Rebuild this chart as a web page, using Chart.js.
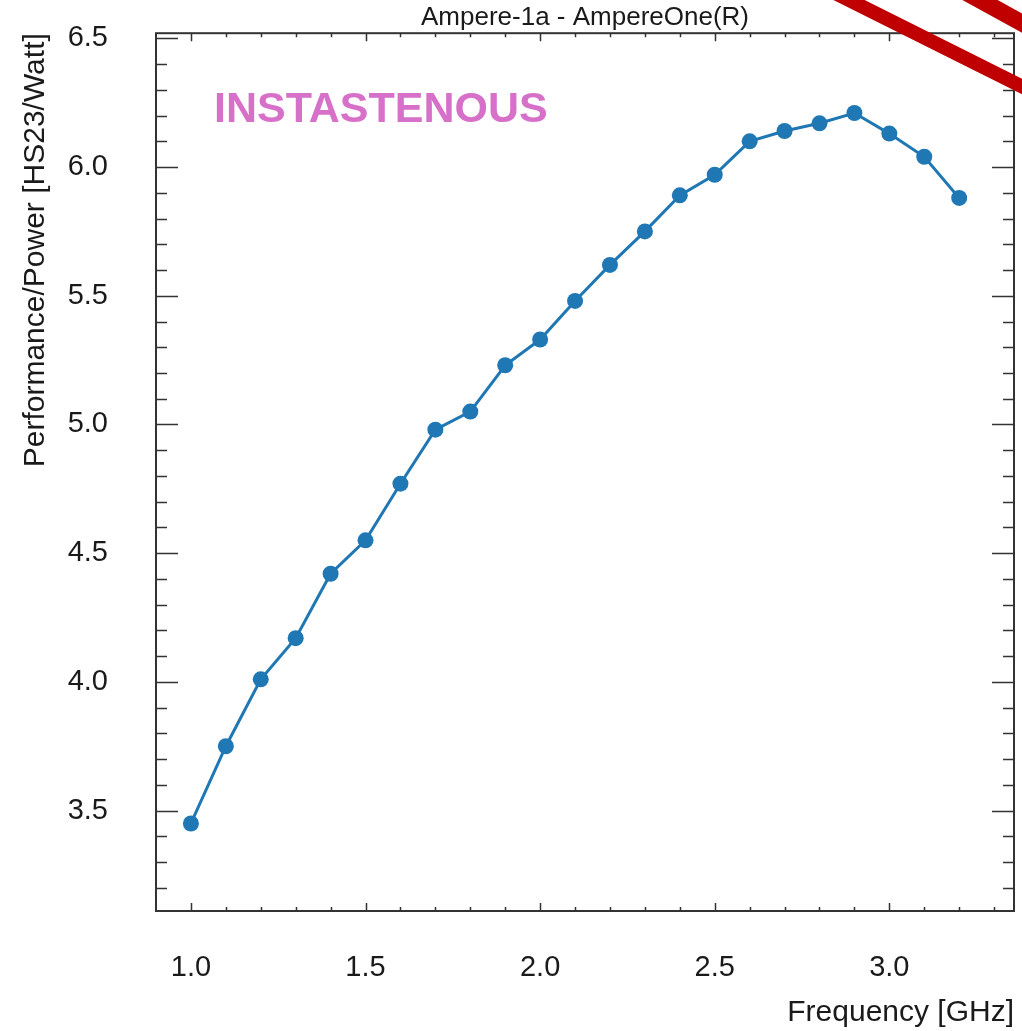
<!DOCTYPE html>
<html>
<head>
<meta charset="utf-8">
<title>Ampere-1a - AmpereOne(R)</title>
<script src="https://cdn.jsdelivr.net/npm/chart.js@4.4.0/dist/chart.umd.min.js"></script>
<style>
  html, body { margin: 0; padding: 0; background: #fff; }
</style>
</head>
<body>
<canvas id="effChart" width="1022" height="1031"></canvas>
<script>
// frequency sweep, efficiency per step
const freqGHz = [1.0, 1.1, 1.2, 1.3, 1.4, 1.5, 1.6, 1.7, 1.8, 1.9, 2.0, 2.1,
                 2.2, 2.3, 2.4, 2.5, 2.6, 2.7, 2.8, 2.9, 3.0, 3.1, 3.2];
const perfPerWatt = [3.45, 3.75, 4.01, 4.17, 4.42, 4.55, 4.77, 4.98, 5.05, 5.23, 5.33, 5.48,
                     5.62, 5.75, 5.89, 5.97, 6.10, 6.14, 6.17, 6.21, 6.13, 6.04, 5.88];
const xTickValues = [1.0, 1.5, 2.0, 2.5, 3.0];
const yTickValues = [3.5, 4.0, 4.5, 5.0, 5.5, 6.0, 6.5];

const FONT = '"Liberation Sans", Arial, Helvetica, sans-serif';
const AXIS_COL = '#333';
const TEXT_COL = '#1a1a1a';

// ticks drawn on the inside of the frame, all four sides
const frameTicks = {
  id: 'frameTicks',
  afterDraw(chart) {
    const { ctx, chartArea: a, scales: { x, y } } = chart;
    ctx.save();
    ctx.strokeStyle = AXIS_COL;
    ctx.lineWidth = 1.5;
    ctx.beginPath();
    for (let i = 10; i <= 33; i++) {
      const px = Math.round(x.getPixelForValue(i / 10)) + 0.5;
      const len = i % 5 === 0 ? 8 : 4;
      ctx.moveTo(px, a.bottom); ctx.lineTo(px, a.bottom - len);
      ctx.moveTo(px, a.top); ctx.lineTo(px, a.top + len);
    }
    for (let i = 32; i <= 65; i++) {
      const py = Math.round(y.getPixelForValue(i / 10)) + 0.5;
      const len = i % 5 === 0 ? 22 : 11;
      ctx.moveTo(a.left, py); ctx.lineTo(a.left + len, py);
      ctx.moveTo(a.right, py); ctx.lineTo(a.right - len, py);
    }
    ctx.stroke();
    ctx.lineWidth = 2;
    ctx.strokeRect(a.left, a.top, a.right - a.left, a.bottom - a.top);
    ctx.restore();
  }
};

// label text and the red corner stamp
const overlay = {
  id: 'overlay',
  afterDraw(chart) {
    const { ctx } = chart;
    ctx.save();
    ctx.fillStyle = 'rgb(214, 112, 200)';
    ctx.font = 'bold 43px ' + FONT;
    ctx.textBaseline = 'alphabetic';
    ctx.fillText('INSTASTENOUS', 214, 122);

    ctx.strokeStyle = '#c00000';
    ctx.lineCap = 'butt';
    ctx.lineWidth = 14;
    ctx.beginPath();
    ctx.moveTo(849 - 120, -120 * 0.5);
    ctx.lineTo(849 + 260, 260 * 0.5);
    ctx.stroke();
    ctx.lineWidth = 17;
    ctx.beginPath();
    ctx.moveTo(980 - 80, -80 * 0.55);
    ctx.lineTo(980 + 120, 120 * 0.55);
    ctx.stroke();
    ctx.restore();
  }
};

new Chart(document.getElementById('effChart').getContext('2d'), {
  type: 'line',
  data: {
    datasets: [{
      label: 'Ampere-1a',
      data: freqGHz.map((f, i) => ({ x: f, y: perfPerWatt[i] })),
      borderColor: '#1f77b4',
      backgroundColor: '#1f77b4',
      borderWidth: 3,
      pointRadius: 8,
      pointBorderWidth: 0,
      tension: 0
    }]
  },
  options: {
    responsive: false,
    animation: false,
    layout: { padding: { left: 0, right: 6, top: 0, bottom: 0 } },
    plugins: {
      legend: { display: false },
      tooltip: { enabled: false },
      title: {
        display: true,
        text: 'Ampere-1a - AmpereOne(R)',
        fullSize: false,
        color: TEXT_COL,
        font: { family: FONT, size: 26, weight: 'normal', lineHeight: 1.2 },
        padding: { top: 2, bottom: 0 }
      }
    },
    scales: {
      x: {
        type: 'linear',
        min: 0.9,
        max: 3.357,
        grid: { display: false, drawTicks: false },
        border: { display: false },
        afterBuildTicks: s => { s.ticks = xTickValues.map(v => ({ value: v })); },
        afterFit: s => { s.height = 120; s.paddingLeft = 0; s.paddingRight = 0; },
        ticks: {
          color: TEXT_COL,
          padding: 40,
          maxRotation: 0,
          font: { family: FONT, size: 29 },
          callback: v => v.toFixed(1)
        },
        title: {
          display: true,
          text: 'Frequency [GHz]',
          align: 'end',
          color: TEXT_COL,
          font: { family: FONT, size: 30 },
          padding: { top: 0, bottom: 0 }
        }
      },
      y: {
        type: 'linear',
        min: 3.11,
        max: 6.52,
        grid: { display: false, drawTicks: false },
        border: { display: false },
        afterBuildTicks: s => { s.ticks = yTickValues.map(v => ({ value: v })); },
        afterFit: s => { s.width = 156; s.paddingTop = 0; s.paddingBottom = 0; },
        ticks: {
          color: TEXT_COL,
          padding: 48,
          font: { family: FONT, size: 29 },
          callback: v => v.toFixed(1)
        },
        title: {
          display: true,
          text: 'Performance/Power [HS23/Watt]',
          align: 'end',
          color: TEXT_COL,
          font: { family: FONT, size: 30 },
          padding: { top: 18, bottom: 0 }
        }
      }
    }
  },
  plugins: [frameTicks, overlay]
});
</script>
</body>
</html>
